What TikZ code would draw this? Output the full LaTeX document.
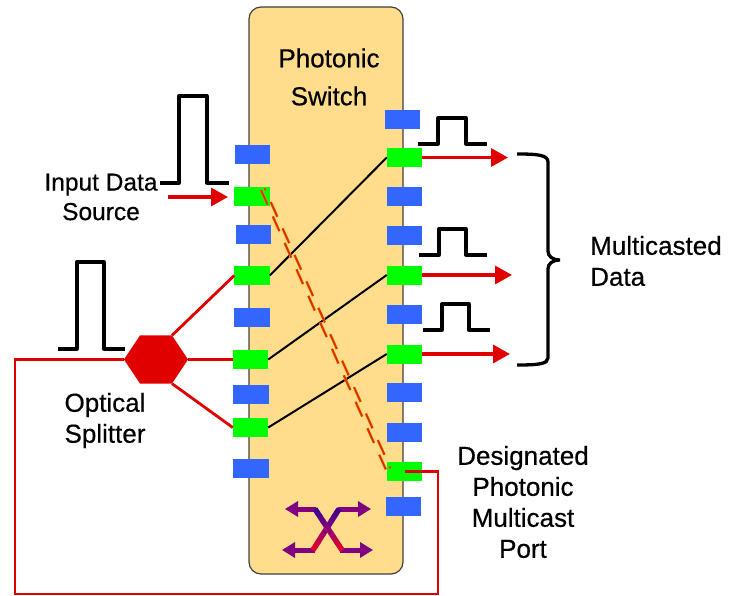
\documentclass[tikz,border=0pt]{standalone}
\usepackage{fontspec}
\setmainfont{Liberation Sans}
\newfontfamily\labfont[FakeBold=0.5]{Liberation Sans}
\usetikzlibrary{shapes.geometric,arrows.meta}
\definecolor{panelfill}{HTML}{FFDD8C}
\definecolor{portblue}{HTML}{3366FF}
\definecolor{portgreen}{HTML}{00FF00}
\definecolor{sigred}{HTML}{E00000}
\definecolor{dashorange}{HTML}{FF9900}
\definecolor{dashred}{HTML}{D83000}
\definecolor{iconpurple}{HTML}{800080}
\definecolor{icontop}{HTML}{400090}
\definecolor{iconlow}{HTML}{E00030}
\tikzset{
  panel/.style={draw=black!75,line width=1.2pt,fill=panelfill,rounded corners=12pt},
  port/.style={minimum width=35.5pt,minimum height=19pt,inner sep=0pt,outer sep=0pt},
  idleport/.style={port,fill=portblue},
  liveport/.style={port,fill=portgreen},
  splitter/.style={regular polygon,regular polygon sides=6,minimum size=64pt,yscale=0.87,transform shape,
    inner sep=0pt,outer sep=0pt,fill=sigred},
  redline/.style={draw=sigred,line width=2.8pt},
  blackline/.style={draw=black,line width=2pt},
  pulse/.style={draw=black,line width=3.3pt,line join=round},
  sigarrow/.style={draw=sigred,line width=3.3pt,-{Triangle[length=17pt,width=18pt]}},
  label/.style={align=center,inner sep=0pt,font=\labfont\fontsize{26}{31}\selectfont},
  iconarrow/.style={draw=iconpurple,line width=5pt,-{Triangle[length=13pt,width=15pt]}},
  dashunder/.style={draw=dashorange,line width=2.6pt,dash pattern=on 16pt off 13pt},
  dashover/.style={draw=dashred,line width=1.8pt,dash pattern=on 16pt off 13pt},
}
\begin{document}
\begin{tikzpicture}[x=1pt,y=-1pt]
\useasboundingbox (0,0) rectangle (731,596);
\node[inner sep=0pt,minimum width=154pt,minimum height=567pt,panel] (sw) at (326,290.5) {};
% left ports
\node[idleport] (l1) at (252.5,154.5) {};
\node[liveport] (l2) at (252,196.5) {};
\node[idleport] (l3) at (253.5,235) {};
\node[liveport] (l4) at (252,275.5) {};
\node[idleport] (l5) at (252,317) {};
\node[liveport] (l6) at (250.5,359.5) {};
\node[idleport] (l7) at (251,394) {};
\node[liveport] (l8) at (250.5,427.5) {};
\node[idleport] (l9) at (251,468.5) {};
% right ports
\node[idleport] (r1) at (402.5,119.5) {};
\node[liveport] (r2) at (404.5,157.5) {};
\node[idleport] (r3) at (404.5,197) {};
\node[idleport] (r4) at (404.5,236) {};
\node[liveport] (r5) at (404.5,275) {};
\node[idleport] (r6) at (404.5,314.5) {};
\node[liveport] (r7) at (404.5,354) {};
\node[idleport] (r8) at (404.5,392.5) {};
\node[idleport] (r9) at (404.5,432) {};
\node[liveport] (r10) at (404.5,471.5) {};
\node[idleport] (r11) at (403.5,506) {};
% splitter
\node[splitter] (hex) at (156,359.5) {};
% switch paths
\draw[blackline] (l4.east) -- (r2.west);
\draw[blackline] (l6.east) -- (r5.west);
\draw[blackline] (l8.east) -- (r7.west);
\coordinate (dstart) at (261,190);
\coordinate (dstartb) at (264.6,188.4);
\coordinate (dend) at (390.6,468.4);
\draw[dashunder] (dstart) -- (r10.west);
\draw[dashover] (dstart) -- (r10.west);
\draw[dashunder,dash phase=14pt] (dstartb) -- (dend);
\draw[dashover,dash phase=14pt] (dstartb) -- (dend);
% splitter branches
\draw[redline] (hex.corner 1) -- (l4.west);
\draw[redline] (hex.corner 6) -- (l6.west);
\draw[redline] (hex.corner 5) -- (l8.west);
% feedback loop
\coordinate (loopr) at (438,471.5);
\coordinate (loopb) at (438,594);
\coordinate (loopl) at (15,594);
\coordinate (loopt) at (15,359.5);
\draw[redline,line join=miter] (r10.center) -- (loopr) -- (loopb) -- (loopl) -- (loopt) -- (hex.corner 3);
% signal arrows
\coordinate (inp) at (168,197);
\coordinate (inq) at (228,197);
\draw[sigarrow] (inp) -- (inq);
\coordinate (o1) at (508,157.5);
\coordinate (o2) at (512,275);
\coordinate (o3) at (510,354);
\draw[sigarrow] (r2.east) -- (o1);
\draw[sigarrow] (r5.east) -- (o2);
\draw[sigarrow] (r7.east) -- (o3);
% pulses
\draw[pulse] (160,183) -- (179,183) -- (179,96) -- (207,96) -- (207,183) -- (229,183);
\draw[pulse] (58,349) -- (77,349) -- (77,262) -- (104,262) -- (104,349) -- (125,349);
\draw[pulse] (418,144) -- (438,144) -- (438,118) -- (466,118) -- (466,144) -- (487,144);
\draw[pulse] (419,255) -- (439,255) -- (439,229) -- (466,229) -- (466,255) -- (487,255);
\draw[pulse] (423,330) -- (442,330) -- (442,304) -- (469,304) -- (469,330) -- (490,330);
% brace
\draw[draw=black,line width=3.3pt] (517,154) .. controls (538,154) and (548,155) .. (548,162)
  -- (548,251) .. controls (548,256) and (552,260) .. (560,260)
  .. controls (552,260) and (548,264) .. (548,269)
  -- (548,358) .. controls (548,364) and (538,365) .. (517,365);
% crossing icon
\draw[iconarrow] (316,509) -- (285,509);
\draw[iconarrow] (338,509) -- (371,509);
\draw[iconarrow] (315,550) -- (282,550);
\draw[iconarrow] (340,550) -- (373,550);
\foreach \i in {0,1,...,9}{
  \pgfmathtruncatemacro{\pct}{\i<5 ? 100-\i*25 : 0}
  \pgfmathtruncatemacro{\pcl}{\i<5 ? 0 : (\i-4)*20}
  \ifnum\i<5
    \colorlet{segcol}{icontop!\pct!iconpurple}
  \else
    \colorlet{segcol}{iconlow!\pcl!iconpurple}
  \fi
  \draw[draw=segcol,line width=5.5pt] ({315+2.7*\i-0.2},{509+4.1*\i-0.2}) -- ({315+2.7*(\i+1)+0.2},{509+4.1*(\i+1)+0.2});
  \draw[draw=segcol,line width=5.5pt] ({339-2.6*\i+0.2},{509+4.1*\i-0.2}) -- ({339-2.6*(\i+1)-0.2},{509+4.1*(\i+1)+0.2});
}
% labels
\node[label,font=\labfont\fontsize{26}{38}\selectfont] (t1) at (329,77) {Photonic\\Switch};
\node[label,font=\labfont\fontsize{24.5}{29.5}\selectfont] (t2) at (101,197) {Input Data\\Source};
\node[label] (t3) at (105,420.5) {Optical\\Splitter};
\node[label,align=left,anchor=west] (t4) at (590,261) {Multicasted\\Data};
\node[label] (t5) at (523,502) {Designated\\Photonic\\Multicast\\Port};
\end{tikzpicture}
\end{document}
